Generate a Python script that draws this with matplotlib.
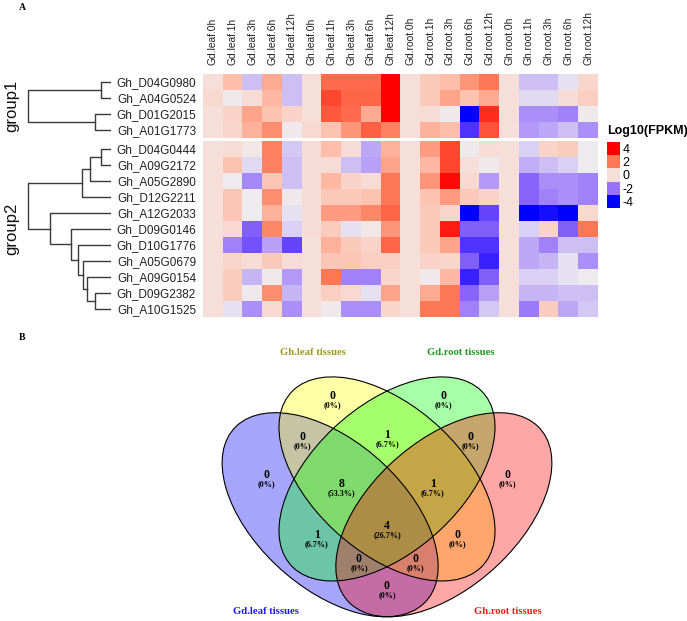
import matplotlib
matplotlib.use("Agg")
import numpy as np
import matplotlib.pyplot as plt
from matplotlib.colors import LinearSegmentedColormap
from matplotlib.patches import Ellipse

W, H = 687, 621

# ---- heatmap data -------------------------------------------------------
col_names = ["Gd.leaf.0h", "Gd.leaf.1h", "Gd.leaf.3h", "Gd.leaf.6h", "Gd.leaf.12h",
             "Gh.leaf.0h", "Gh.leaf.1h", "Gh.leaf.3h", "Gh.leaf.6h", "Gh.leaf.12h",
             "Gd.root.0h", "Gd.root.1h", "Gd.root.3h", "Gd.root.6h", "Gd.root.12h",
             "Gh.root.0h", "Gh.root.1h", "Gh.root.3h", "Gh.root.6h", "Gh.root.12h"]

group1_genes = ["Gh_D04G0980", "Gh_A04G0524", "Gh_D01G2015", "Gh_A01G1773"]
group2_genes = ["Gh_D04G0444", "Gh_A09G2172", "Gh_A05G2890", "Gh_D12G2211",
                "Gh_A12G2033", "Gh_D09G0146", "Gh_D10G1776", "Gh_A05G0679",
                "Gh_A09G0154", "Gh_D09G2382", "Gh_A10G1525"]

group1_vals = [
    [0, 1.0, -1.0, 1.3, -1.0, 0, 2.2, 2.2, 2.2, 4, 0, 0.7, 1.0, 1.6, 2.0, 0, -1.0, -1.0, -0.6, 0.3],
    [0.2, -0.4, 0.1, 1.1, -1.0, 0, 2.8, 2.3, 2.3, 4, 0, 0.7, 1.4, 0.9, 1.3, 0, -0.7, -0.7, 0.1, 0.5],
    [0, 0.4, 1.4, 0.9, 0.4, 0, 2.5, 2.2, 1.3, 4, 0, 0.1, -0.4, -4, 3.2, 0, -1.6, -1.6, -1.8, -0.4],
    [0, 0.3, 1.2, 1.7, -0.4, 0.2, 0.9, 1.6, 2.4, 1.9, 0, 1.2, 1.0, -3.0, 2.6, 0, -1.5, -1.3, -1.0, -1.6],
]
group2_vals = [
    [0, 0.1, -0.3, 1.9, -0.9, 0.1, 1.0, 0.1, -1.3, 1.2, 0, 1.5, 2.8, -0.4, 0.1, 0, -0.8, 0.4, 0.6, -0.5],
    [0, 0.9, -0.7, 1.9, -1.0, 0.1, 0.1, -1.0, -1.4, 1.4, 0, 1.1, 2.8, 0.0, -0.4, 0, -1.2, -1.0, -0.8, -0.5],
    [0, -0.5, -1.7, 0.8, -1.0, 0.1, 1.1, 0.4, 0.1, 2.0, 0, 1.6, 3.8, 0.2, -1.5, 0, -2.2, -1.6, -1.6, -1.8],
    [0, 0.8, -0.5, 1.7, -0.4, 0.1, 0.7, 0.7, 0.9, 2.0, 0, 0.9, 1.5, 0.7, 0.4, 0, -2.2, -1.8, -1.6, -1.8],
    [0, 0.8, -0.5, 1.2, -0.6, 0.1, 1.5, 1.5, 1.8, 2.3, 0, 0.7, 0.3, -4, -2.7, 0, -4, -3.7, -4, 0.2],
    [0, 0.2, -2.3, 1.8, -0.8, 0.1, 0.6, -0.6, -0.3, 1.6, 0, 0.7, 3.5, -2.3, -2.3, 0, -0.8, 0.4, -2.3, 2.0],
    [0, -1.8, -2.5, -1.4, -2.7, 0, 1.2, 0.7, 0.4, 2.3, 0, 0.7, 1.4, -3.0, -3.0, 0, -1.3, -1.8, -1.0, -1.0],
    [0, 0.3, 0.1, 0.7, 0.1, 0, 0.8, 0.8, 0.5, 0.5, 0, 0.4, 0.3, -2.3, -3.3, 0, -1.3, -1.1, -0.6, -1.6],
    [0, 0.6, -1.1, -0.4, -1.5, 0, 2.0, -1.8, -1.8, 0.3, 0, -0.4, 1.1, -3.3, -2.3, 0, -0.8, -0.8, -0.6, -0.5],
    [0, 0.6, -0.4, 1.7, -1.1, 0, 0.5, 0.2, -0.6, 1.4, 0, 1.3, 2.0, -2.2, -1.4, 0, -1.1, -1.1, -1.0, -1.0],
    [0, -0.6, -1.6, 0.2, -1.6, 0, -0.4, -1.6, -1.6, 0.3, 0, 2.0, 2.0, -1.8, -0.9, 0, -1.9, 0.6, -1.3, -0.9],
]

# (merge height, left, right) with leaf indices inside each group
tree_group1 = (82, (9, 0, 1), (15, 2, 3))
tree_group2 = (82,
               (28, (20, (9, 0, 1), 2), 3),
               (60, 4, (39, 5, (32, 6, (27, 7, (23, 8, (15, 9, 10)))))))

legend_ticks = [4, 2, 0, -2, -4]

scale_vals = [-4, -3, -2, -1, -0.5, 0, 1, 2, 3, 4]
scale_cols = ["#0000ff", "#5032ff", "#9673fa", "#cdbef5", "#eeecf0",
              "#f6e0da", "#fec0ad", "#ff7a58", "#ff3a26", "#ff0000"]
cmap = LinearSegmentedColormap.from_list(
    "fpkm", [((v + 4) / 8, c) for v, c in zip(scale_vals, scale_cols)])

# ---- venn data ----------------------------------------------------------
set_names = ["Gd.leaf tissues", "Gh.leaf tissues", "Gd.root tissues", "Gh.root tissues"]
set_fill = ["#0000ff", "#ffff00", "#00ff00", "#ff0000"]
set_text_col = ["#1a1aff", "#9b9b22", "#1f991f", "#ff1a1a"]
# region key = which sets (0..3) contain it, value = gene count
region_keys = ["0", "1", "2", "3", "01", "12", "23", "012", "123", "02", "0123", "13", "023", "013", "03"]
region_counts = [0, 0, 0, 0, 0, 1, 0, 8, 1, 1, 4, 0, 0, 0, 0]
region_pos = [(0.181, 0.575), (0.355, 0.796), (0.648, 0.796), (0.819, 0.575),
              (0.278, 0.682), (0.500, 0.687), (0.719, 0.682),
              (0.379, 0.550), (0.621, 0.550), (0.315, 0.408), (0.500, 0.433),
              (0.685, 0.408), (0.426, 0.341), (0.574, 0.341), (0.500, 0.265)]
ell_center = [(0.35, 0.47), (0.5, 0.57), (0.5, 0.57), (0.65, 0.47)]
ell_angle = [-45, -45, 45, 45]
cat_pos = [(0.181, 0.200), (0.305, 0.922), (0.695, 0.922), (0.819, 0.200)]


def box(x0, y0, x1, y1):
    return [x0 / W, 1 - y1 / H, (x1 - x0) / W, (y1 - y0) / H]


def draw_tree(ax, node):
    if isinstance(node, int):
        return node, 0
    h, left, right = node
    y1, h1 = draw_tree(ax, left)
    y2, h2 = draw_tree(ax, right)
    ax.plot([h1, h, h, h2], [y1, y1, y2, y2], color="#3a3a3a", lw=1, clip_on=False)
    return (y1 + y2) / 2, h


plt.rcParams["font.family"] = "Liberation Sans"
fig = plt.figure(figsize=(W / 100, H / 100), dpi=100)

fig.text(22 / W, 1 - 7 / H, "A", family="Liberation Serif", weight="bold", fontsize=7,
         ha="center", va="center")
fig.text(22 / W, 1 - 338 / H, "B", family="Liberation Serif", weight="bold", fontsize=7,
         ha="center", va="center")

hm_boxes = [(74, 137.7), (141, 316.7)]
for gi, (genes, vals, tree, label) in enumerate([
        (group1_genes, group1_vals, tree_group1, "group1"),
        (group2_genes, group2_vals, tree_group2, "group2")]):
    y0, y1 = hm_boxes[gi]
    ax = fig.add_axes(box(203, y0, 598, y1))
    ax.imshow(np.array(vals), cmap=cmap, vmin=-4, vmax=4, aspect="auto",
              interpolation="nearest")
    ax.set_yticks(range(len(genes)))
    ax.set_yticklabels(genes, fontsize=8.5, color="#222222")
    ax.tick_params(axis="y", length=0, pad=5)
    if gi == 0:
        ax.xaxis.tick_top()
        ax.set_xticks(range(len(col_names)))
        ax.set_xticklabels(col_names, rotation=90, fontsize=7.4, color="#222222")
        ax.tick_params(axis="x", length=0, pad=6.5)
    else:
        ax.set_xticks([])
    for s in ax.spines.values():
        s.set_visible(False)

    dax = fig.add_axes(box(28, y0, 110, y1))
    draw_tree(dax, tree)
    dax.set_xlim(82, 0)
    dax.set_ylim(len(genes) - 0.5, -0.5)
    dax.axis("off")
    fig.text(12 / W, 1 - (y0 + y1) / 2 / H, label, rotation=90, fontsize=12,
             ha="center", va="center", color="#111111")

# legend
fig.text(607 / W, 1 - 131 / H, "Log10(FPKM)", weight="bold", fontsize=9,
         ha="left", va="center")
lax = fig.add_axes(box(607, 142, 620, 208))
lax.imshow(np.array(legend_ticks)[:, None], cmap=cmap, vmin=-4, vmax=4, aspect="auto")
lax.set_xticks([])
lax.yaxis.tick_right()
lax.set_yticks(range(len(legend_ticks)))
lax.set_yticklabels([str(t) for t in legend_ticks], fontsize=9)
lax.tick_params(axis="y", length=0, pad=2)
for s in lax.spines.values():
    s.set_visible(False)

# venn
vax = fig.add_axes(box(197.5, 325, 576.5, 621))
vax.set_xlim(0, 1)
vax.set_ylim(0.1732, 1)
vax.axis("off")
for c, ang, col in zip(ell_center, ell_angle, set_fill):
    vax.add_patch(Ellipse(c, 0.7, 0.4, angle=ang, facecolor=col, alpha=0.35, edgecolor="none"))
for c, ang in zip(ell_center, ell_angle):
    vax.add_patch(Ellipse(c, 0.7, 0.4, angle=ang, facecolor="none", edgecolor="black", lw=0.8))

total = sum(region_counts)
for key, n, (x, y) in zip(region_keys, region_counts, region_pos):
    pct = "{:g}".format(round(100 * n / total, 1))
    vax.text(x, y + 0.006, str(n), family="Liberation Serif", weight="bold", fontsize=8.5,
             ha="center", va="center")
    vax.text(x, y - 0.021, "(%s%%)" % pct, family="Liberation Serif", weight="bold",
             fontsize=5.8, ha="center", va="center")

for name, col, (x, y) in zip(set_names, set_text_col, cat_pos):
    vax.text(x, y, name, family="Liberation Serif", weight="bold", fontsize=7.7,
             color=col, ha="center", va="center", clip_on=False)

fig.savefig("out.png", dpi=100)
